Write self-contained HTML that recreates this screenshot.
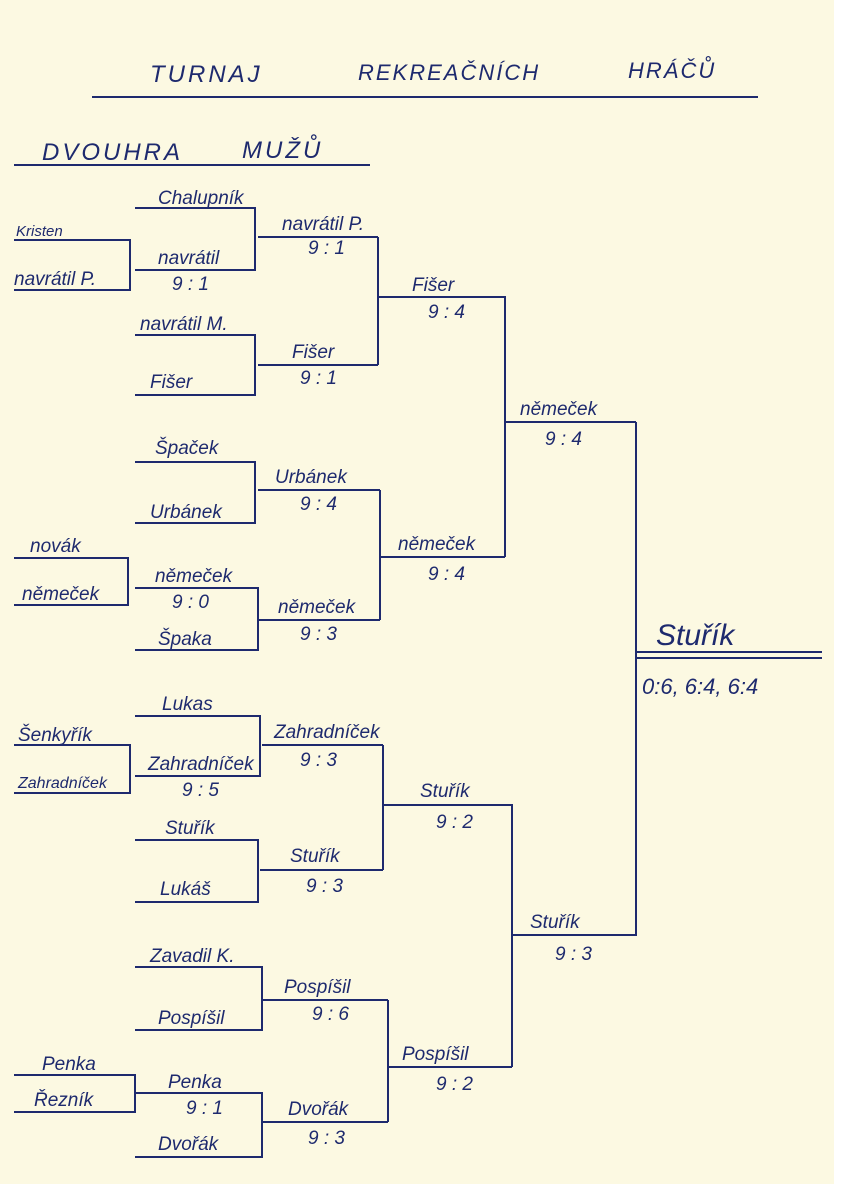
<!DOCTYPE html>
<html><head><meta charset="utf-8"><style>
html,body{margin:0;padding:0;background:#fff}
svg{display:block}
text{font-family:"Liberation Sans",sans-serif;font-style:italic;fill:#1e2a6e}
</style></head><body>
<svg width="842" height="1200" viewBox="0 0 842 1200" xmlns="http://www.w3.org/2000/svg">
<rect x="0" y="0" width="834" height="1184" fill="#fcf9e2"/>
<g stroke="#1e2a6e" stroke-width="2" fill="none">
<line x1="92" y1="97" x2="758" y2="97"/>
<line x1="14" y1="165" x2="370" y2="165"/>
<path d="M14 240H130V290H14"/>
<path d="M135 208H255V270H135"/>
<path d="M258 237H378"/>
<path d="M135 335H255V395H135"/>
<path d="M258 365H378"/>
<path d="M378 237V365"/>
<path d="M378 297H502"/>
<path d="M135 462H255V523H135"/>
<path d="M258 490H380"/>
<path d="M14 558H128V605H14"/>
<path d="M135 588H258V650H135"/>
<path d="M258 620H380"/>
<path d="M380 490V620"/>
<path d="M380 557H505"/>
<path d="M502 297H505V557"/>
<path d="M505 422H636"/>
<path d="M14 745H130V793H14"/>
<path d="M135 716H260V776H135"/>
<path d="M262 745H383"/>
<path d="M135 840H258V902H135"/>
<path d="M260 870H383"/>
<path d="M383 745V870"/>
<path d="M383 805H510"/>
<path d="M135 967H262V1030H135"/>
<path d="M14 1075H135V1112H14"/>
<path d="M135 1093H262V1157H135"/>
<path d="M262 1000H388"/>
<path d="M262 1122H388"/>
<path d="M388 1000V1122"/>
<path d="M388 1067H512"/>
<path d="M510 805H512V1067"/>
<path d="M512 935H636V422"/>
<line x1="636" y1="652" x2="822" y2="652"/>
<line x1="636" y1="658" x2="822" y2="658"/>
</g>
<g font-size="22">
<text x="150" y="82" font-size="24" letter-spacing="3">TURNAJ</text>
<text x="358" y="80" font-size="22" letter-spacing="2">REKREAČNÍCH</text>
<text x="628" y="78" font-size="22" letter-spacing="2">HRÁČŮ</text>
<text x="42" y="160" font-size="24" letter-spacing="3">DVOUHRA</text>
<text x="242" y="158" font-size="24" letter-spacing="3">MUŽŮ</text>
</g>
<g font-size="19">
<text x="16" y="236" font-size="15">Kristen</text>
<text x="14" y="285">navrátil P.</text>
<text x="158" y="204">Chalupník</text>
<text x="158" y="264">navrátil</text>
<text x="172" y="290">9 : 1</text>
<text x="282" y="230">navrátil P.</text>
<text x="308" y="254">9 : 1</text>
<text x="140" y="330">navrátil M.</text>
<text x="150" y="388">Fišer</text>
<text x="292" y="358">Fišer</text>
<text x="300" y="384">9 : 1</text>
<text x="412" y="291">Fišer</text>
<text x="428" y="318">9 : 4</text>
<text x="155" y="454">Špaček</text>
<text x="150" y="518">Urbánek</text>
<text x="275" y="483">Urbánek</text>
<text x="300" y="510">9 : 4</text>
<text x="30" y="552">novák</text>
<text x="22" y="600">němeček</text>
<text x="155" y="582">němeček</text>
<text x="172" y="608">9 : 0</text>
<text x="158" y="645">Špaka</text>
<text x="278" y="613">němeček</text>
<text x="300" y="640">9 : 3</text>
<text x="398" y="550">němeček</text>
<text x="428" y="580">9 : 4</text>
<text x="520" y="415">němeček</text>
<text x="545" y="445">9 : 4</text>
<text x="162" y="710">Lukas</text>
<text x="148" y="770">Zahradníček</text>
<text x="182" y="796">9 : 5</text>
<text x="18" y="741">Šenkyřík</text>
<text x="18" y="788" font-size="16">Zahradníček</text>
<text x="274" y="738">Zahradníček</text>
<text x="300" y="766">9 : 3</text>
<text x="165" y="834">Stuřík</text>
<text x="160" y="895">Lukáš</text>
<text x="290" y="862">Stuřík</text>
<text x="306" y="892">9 : 3</text>
<text x="420" y="797">Stuřík</text>
<text x="436" y="828">9 : 2</text>
<text x="150" y="962">Zavadil K.</text>
<text x="158" y="1024">Pospíšil</text>
<text x="284" y="993">Pospíšil</text>
<text x="312" y="1020">9 : 6</text>
<text x="42" y="1070">Penka</text>
<text x="34" y="1106">Řezník</text>
<text x="168" y="1088">Penka</text>
<text x="186" y="1114">9 : 1</text>
<text x="158" y="1150">Dvořák</text>
<text x="288" y="1115">Dvořák</text>
<text x="308" y="1144">9 : 3</text>
<text x="402" y="1060">Pospíšil</text>
<text x="436" y="1090">9 : 2</text>
<text x="530" y="928">Stuřík</text>
<text x="555" y="960">9 : 3</text>
<text x="656" y="645" font-size="30">Stuřík</text>
<text x="642" y="694" font-size="22">0:6, 6:4, 6:4</text>
</g>
</svg>
</body></html>
